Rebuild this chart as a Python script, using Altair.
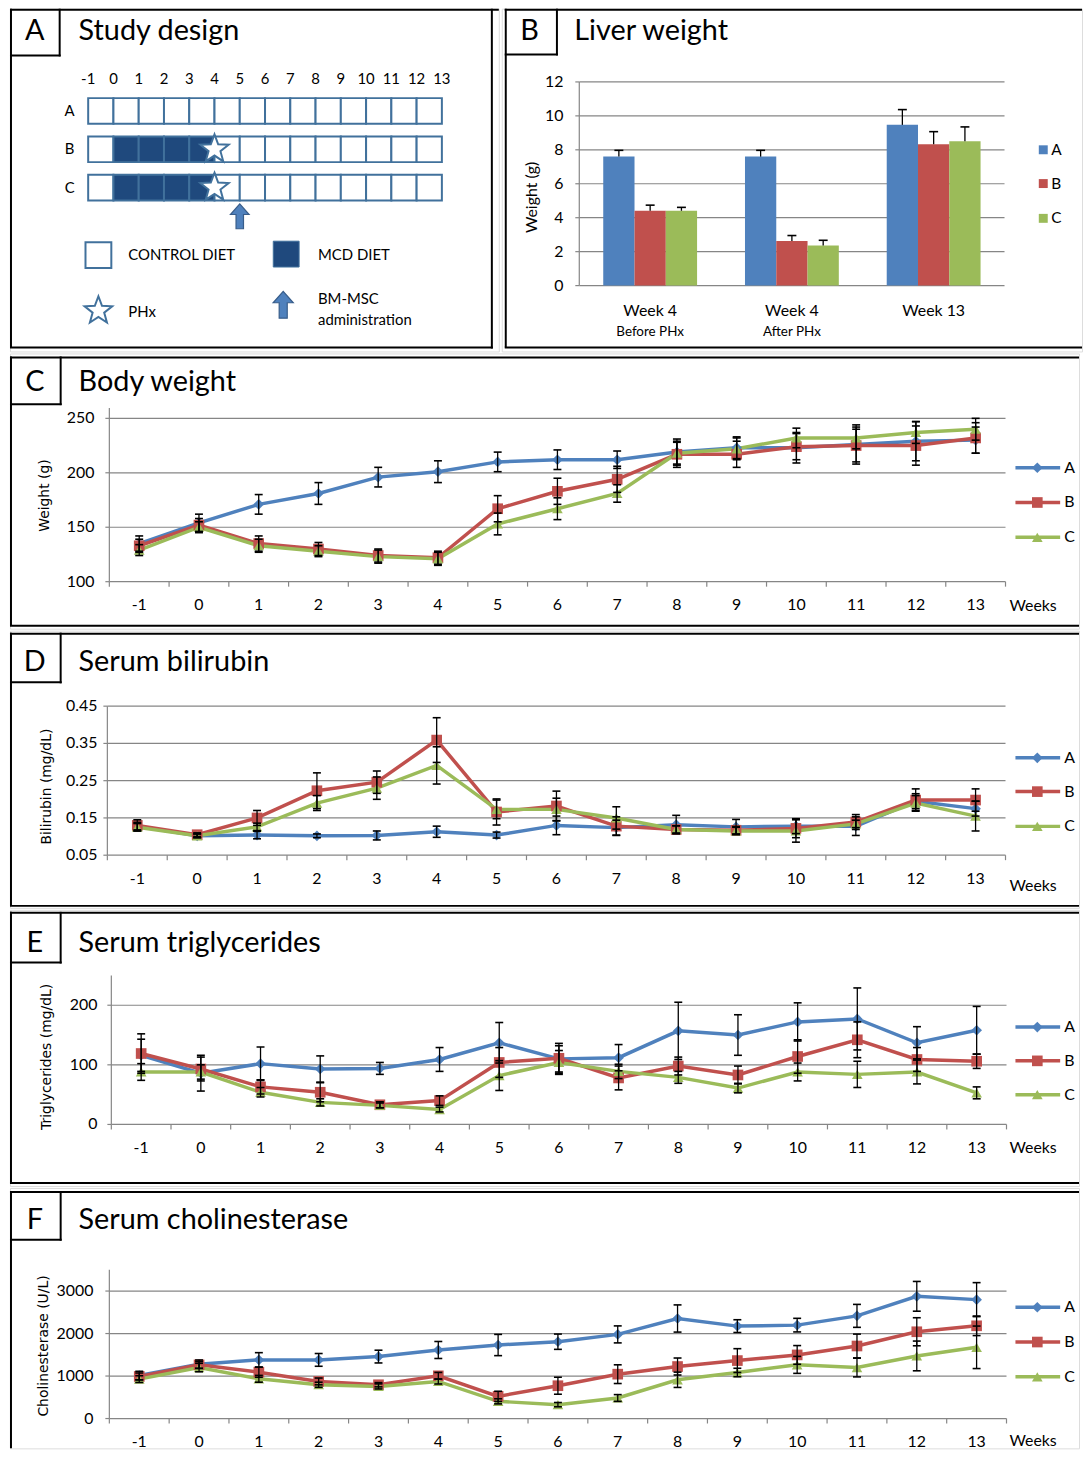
import altair as alt
import pandas as pd

FONT = "Lato"
YT_FONT = "DejaVu Sans"
GRID = "#868686"
BLUE_EDGE = "#41719C"
NAVY = "#1F497D"

series = ["A", "B", "C"]
series_colors = ["#4F81BD", "#C0504D", "#9BBB59"]
series_shapes = ["diamond", "square", "triangle-up"]
weeks = list(range(-1, 14))

# ---------------- Panel A: study design ----------------
design_rows = ["A", "B", "C"]
cell_start = list(range(-1, 13))
diet_A = ["control"] * 14
diet_B = ["control", "MCD", "MCD", "MCD", "MCD"] + ["control"] * 9
diet_C = ["control", "MCD", "MCD", "MCD", "MCD"] + ["control"] * 9
phx_rows = ["B", "C"]
phx_week = 4
msc_week = 5

# ---------------- Panel B: liver weight ----------------
liver_keys = ["w4pre", "w4post", "w13"]
liver_line1 = ["Week 4", "Week 4", "Week 13"]
liver_line2 = ["Before PHx", "After PHx", ""]
liver_A = [7.6, 7.6, 9.47]
liver_A_err = [0.37, 0.37, 0.9]
liver_B = [4.41, 2.63, 8.33]
liver_B_err = [0.33, 0.32, 0.74]
liver_C = [4.41, 2.36, 8.51]
liver_C_err = [0.2, 0.31, 0.84]
liver_ticks = [0, 2, 4, 6, 8, 10, 12]

# ---------------- Panel C: body weight ----------------
bw_A = [135, 154, 171, 181, 196, 201, 210, 212, 212, 219, 223, 223, 226, 229, 230]
bw_B = [133, 152, 135, 130, 124, 122, 167, 183, 194, 217, 217, 224, 225, 225, 232]
bw_C = [129, 150, 133, 128, 123, 121, 153, 167, 181, 218, 222, 232, 232, 237, 240]
bw_A_err = [7, 8, 9, 10, 9, 10, 9, 9, 8, 12, 10, 14, 18, 18, 12]
bw_B_err = [6, 6, 7, 6, 6, 6, 12, 12, 12, 12, 12, 12, 15, 18, 14]
bw_C_err = [5, 5, 6, 5, 6, 6, 10, 10, 8, 10, 10, 9, 10, 10, 10]
bw_ticks = [100, 150, 200, 250]
bw_labels = ["100", "150", "200", "250"]

# ---------------- Panel D: bilirubin ----------------
bil_A = [0.128, 0.102, 0.104, 0.102, 0.103, 0.113, 0.104, 0.130, 0.124, 0.132, 0.126, 0.128, 0.128, 0.195, 0.175]
bil_B = [0.130, 0.105, 0.150, 0.223, 0.246, 0.359, 0.166, 0.182, 0.128, 0.119, 0.117, 0.122, 0.139, 0.198, 0.198]
bil_C = [0.125, 0.102, 0.126, 0.190, 0.230, 0.291, 0.173, 0.173, 0.150, 0.119, 0.115, 0.115, 0.134, 0.190, 0.155]
bil_A_err = [0.01, 0.005, 0.01, 0.005, 0.012, 0.015, 0.008, 0.025, 0.02, 0.025, 0.02, 0.02, 0.025, 0.02, 0.02]
bil_B_err = [0.015, 0.005, 0.02, 0.048, 0.03, 0.06, 0.035, 0.04, 0.025, 0.01, 0.01, 0.025, 0.02, 0.03, 0.03]
bil_C_err = [0.01, 0.005, 0.01, 0.02, 0.03, 0.05, 0.025, 0.03, 0.03, 0.01, 0.01, 0.03, 0.01, 0.02, 0.04]
bil_ticks = [0.05, 0.15, 0.25, 0.35, 0.45]
bil_labels = ["0.05", "0.15", "0.25", "0.35", "0.45"]

# ---------------- Panel E: triglycerides ----------------
tg_A = [116, 86, 102, 93, 94, 109, 137, 110, 112, 157, 150, 172, 177, 137, 158]
tg_B = [119, 93, 63, 54, 33, 40, 104, 111, 78, 98, 83, 114, 142, 109, 106]
tg_C = [88, 88, 54, 37, 32, 25, 82, 104, 89, 79, 61, 88, 84, 88, 53]
tg_A_err = [27, 30, 28, 22, 10, 20, 34, 22, 22, 48, 34, 32, 52, 27, 40]
tg_B_err = [33, 20, 12, 16, 5, 8, 25, 25, 20, 15, 15, 28, 30, 20, 12]
tg_C_err = [14, 12, 8, 6, 4, 4, 25, 20, 12, 10, 8, 15, 22, 20, 10]
tg_ticks = [0, 100, 200]
tg_labels = ["0", "100", "200"]

# ---------------- Panel F: cholinesterase ----------------
ch_A = [1013, 1278, 1380, 1380, 1458, 1613, 1730, 1808, 1980, 2354, 2175, 2198, 2416, 2876, 2798]
ch_B = [990, 1263, 1091, 873, 795, 1005, 522, 772, 1044, 1224, 1364, 1497, 1707, 2042, 2182]
ch_C = [927, 1200, 935, 795, 756, 873, 405, 327, 483, 912, 1083, 1263, 1200, 1473, 1676]
ch_A_err = [100, 100, 170, 150, 150, 200, 250, 180, 200, 320, 150, 160, 270, 350, 400]
ch_B_err = [80, 80, 120, 80, 50, 80, 120, 200, 220, 200, 280, 220, 280, 330, 230]
ch_C_err = [80, 100, 80, 60, 60, 60, 60, 50, 80, 180, 100, 200, 220, 350, 500]
ch_ticks = [0, 1000, 2000, 3000]
ch_labels = ["0", "1000", "2000", "3000"]

STAR = ("M0,-1L0.247,-0.34L0.951,-0.309L0.399,0.13L0.588,0.809L0,0.42"
        "L-0.588,0.809L-0.399,0.13L-0.951,-0.309L-0.247,-0.34Z")
ARROW = "M-0.3,1L-0.3,-0.15L-0.75,-0.15L0,-1L0.75,-0.15L0.3,-0.15L0.3,1Z"

ONE = pd.DataFrame({"k": [0]})
TOTAL_W = 1076
LINE_W = 3.5
MARK_SIZE = 115


def hline(x1, x2, y, w=2, color="black"):
    return alt.Chart(ONE).mark_rule(color=color, strokeWidth=w).encode(
        x=alt.value(x1), x2=alt.value(x2), y=alt.value(y))


def vline(x, y1, y2, w=2, color="black"):
    return alt.Chart(ONE).mark_rule(color=color, strokeWidth=w).encode(
        x=alt.value(x), y=alt.value(y1), y2=alt.value(y2))


def label(txt, x, y, size, font=FONT, align="left", angle=0, color="black"):
    return alt.Chart(ONE).mark_text(text=txt, fontSize=size, font=font, align=align,
                                    baseline="middle", angle=angle, color=color).encode(
        x=alt.value(x), y=alt.value(y))


def frame(width, height, top, bottom, left, box_right, box_bottom, letter, letter_x, letter_y,
          title, title_x, right=None):
    layers = [hline(left - 1, width, top), vline(left, top - 1, bottom if bottom is not None else height)]
    if bottom is not None:
        layers.append(hline(left - 1, (right + 1) if right is not None else width, bottom))
    if right is not None:
        layers.append(vline(right, top - 1, bottom + 1))
    layers.append(vline(box_right, top - 1, box_bottom + 1))
    layers.append(hline(left - 1, box_right + 1, box_bottom))
    layers.append(label(letter, letter_x, letter_y, 29, align="center"))
    layers.append(label(title, title_x, letter_y, 29))
    return layers


def y_axis(yscale, ticks, labels, x0, ybot, ytop, gap, size=16):
    df = pd.DataFrame({"v": ticks, "lab": labels})
    Y = alt.Y("v:Q", scale=yscale, axis=None)
    return [
        vline(x0, ytop, ybot, w=1.2, color=GRID),
        alt.Chart(df).mark_rule(color=GRID, strokeWidth=1.2).encode(
            y=Y, x=alt.value(x0 - 4), x2=alt.value(x0)),
        alt.Chart(df).mark_text(align="right", baseline="middle", fontSize=size, font=FONT,
                                color="black").encode(y=Y, x=alt.value(x0 - gap), text="lab:N"),
    ]


def x_axis(xscale, x0, x1, ybot):
    wdf = pd.DataFrame({"week": weeks, "lab": [str(w) for w in weeks]})
    last = pd.DataFrame({"week": [weeks[-1]]})
    return [
        hline(x0, x1, ybot, w=1.2, color=GRID),
        alt.Chart(wdf).mark_rule(color=GRID, strokeWidth=1.2).encode(
            x=alt.X("week:O", scale=xscale, axis=None, bandPosition=0),
            y=alt.value(ybot), y2=alt.value(ybot + 5)),
        alt.Chart(last).mark_rule(color=GRID, strokeWidth=1.2).encode(
            x=alt.X("week:O", scale=xscale, axis=None, bandPosition=1),
            y=alt.value(ybot), y2=alt.value(ybot + 5)),
        alt.Chart(wdf).mark_text(align="center", baseline="middle", fontSize=16, font=FONT,
                                 color="black").encode(
            x=alt.X("week:O", scale=xscale, axis=None, bandPosition=0.5),
            y=alt.value(ybot + 24), text="lab:N"),
    ]


def line_panel(H, vals, errs, x0, x1, ydom, yrange, yticks, ylabels, gridvals, lab_gap,
               leg_ys, weeks_y, ytitle, ytitle_xy, frame_layers):
    rows = []
    for s, v, e in zip(series, vals, errs):
        for w, vv, ee in zip(weeks, v, e):
            rows.append(dict(week=w, series=s, value=vv, err=ee))
    df = pd.DataFrame(rows)
    xscale = alt.Scale(type="band", domain=weeks, range=[x0, x1], paddingInner=0, paddingOuter=0)
    yscale = alt.Scale(domain=ydom, range=yrange, nice=False, zero=False)
    ybot, ytop = yrange
    Xn = alt.X("week:O", scale=xscale, axis=None)
    color = alt.Color("series:N", scale=alt.Scale(domain=series, range=series_colors), legend=None)
    shape = alt.Shape("series:N", scale=alt.Scale(domain=series, range=series_shapes), legend=None)

    grid = alt.Chart(pd.DataFrame({"g": gridvals})).mark_rule(color=GRID, strokeWidth=1.2).encode(
        y=alt.Y("g:Q", scale=yscale, axis=None), x=alt.value(x0), x2=alt.value(x1))
    base = alt.Chart(df)
    lines = base.mark_line(strokeWidth=LINE_W).encode(
        x=Xn, y=alt.Y("value:Q", scale=yscale, axis=None), color=color)
    pts = base.mark_point(filled=True, size=MARK_SIZE, opacity=1).encode(
        x=Xn, y=alt.Y("value:Q", scale=yscale, axis=None), color=color, shape=shape)
    eb = base.transform_calculate(lo="datum.value - datum.err", hi="datum.value + datum.err")
    rules = eb.mark_rule(color="black", strokeWidth=1.3).encode(
        x=Xn, y=alt.Y("lo:Q", scale=yscale, axis=None), y2="hi:Q")
    cap_lo = eb.mark_tick(color="black", thickness=1.6, size=8, opacity=1).encode(
        x=Xn, y=alt.Y("lo:Q", scale=yscale, axis=None))
    cap_hi = eb.mark_tick(color="black", thickness=1.6, size=8, opacity=1).encode(
        x=Xn, y=alt.Y("hi:Q", scale=yscale, axis=None))

    legend = []
    for i, s in enumerate(series):
        ly = leg_ys[i]
        legend.append(hline(1012, 1057, ly, w=LINE_W, color=series_colors[i]))
        legend.append(alt.Chart(ONE).mark_point(filled=True, size=MARK_SIZE, shape=series_shapes[i],
                                                color=series_colors[i], opacity=1).encode(
            x=alt.value(1034), y=alt.value(ly)))
        legend.append(label(s, 1061, ly, 16))
    extras = [label("Weeks", 1006, weeks_y, 16),
              label(ytitle, ytitle_xy[0], ytitle_xy[1], 14, font=YT_FONT, align="center", angle=270)]
    axes = y_axis(yscale, yticks, ylabels, x0, ybot, ytop, lab_gap) + x_axis(xscale, x0, x1, ybot)
    return alt.layer(*frame_layers, grid, *axes, lines, pts, rules, cap_lo, cap_hi, *legend, *extras).properties(
        width=TOTAL_W, height=H)


# ---------------- build panel A ----------------
A_W, A_H = 492, 345
cells = []
for r, diets in zip(design_rows, [diet_A, diet_B, diet_C]):
    for st, d in zip(cell_start, diets):
        cells.append(dict(row=r, start=st, diet=d))
cells = pd.DataFrame(cells)
xa = alt.Scale(domain=[-1, 13], range=[78.7, 434.7], nice=False, zero=False)
ya = alt.Scale(type="band", domain=design_rows, range=[90, 193], paddingInner=0.33, paddingOuter=0)

rects = alt.Chart(cells).transform_calculate(end="datum.start + 1").mark_rect(
    stroke=BLUE_EDGE, strokeWidth=2).encode(
    x=alt.X("start:Q", scale=xa, axis=None), x2="end:Q",
    y=alt.Y("row:N", scale=ya, axis=None),
    fill=alt.Fill("diet:N", scale=alt.Scale(domain=["control", "MCD"], range=["white", NAVY]), legend=None))
col_labels = alt.Chart(pd.DataFrame({"week": weeks, "lab": [str(w) for w in weeks]})).mark_text(
    fontSize=15, font=FONT, baseline="middle").encode(
    x=alt.X("week:Q", scale=xa, axis=None), y=alt.value(71), text="lab:N")
row_labels = alt.Chart(pd.DataFrame({"row": design_rows})).mark_text(
    fontSize=15, font=FONT, baseline="middle").encode(
    x=alt.value(60), y=alt.Y("row:N", scale=ya, axis=None), text="row:N")
stars = alt.Chart(pd.DataFrame({"row": phx_rows, "week": [phx_week] * len(phx_rows)})).mark_point(
    shape=STAR, size=900, filled=True, fill="white", stroke=BLUE_EDGE, strokeWidth=2, opacity=1).encode(
    x=alt.X("week:Q", scale=xa, axis=None), y=alt.Y("row:N", scale=ya, axis=None))
arrow = alt.Chart(pd.DataFrame({"week": [msc_week]})).mark_point(
    shape=ARROW, size=625, filled=True, fill="#4F81BD", stroke="#385D8A", strokeWidth=1.2, opacity=1).encode(
    x=alt.X("week:Q", scale=xa, axis=None), y=alt.value(209))

legA = [
    alt.Chart(ONE).mark_rect(fill="white", stroke=BLUE_EDGE, strokeWidth=2).encode(
        x=alt.value(76), x2=alt.value(102), y=alt.value(235), y2=alt.value(261)),
    label("CONTROL DIET", 119, 248, 15),
    alt.Chart(ONE).mark_rect(fill=NAVY, stroke=BLUE_EDGE, strokeWidth=1).encode(
        x=alt.value(265), x2=alt.value(291), y=alt.value(234), y2=alt.value(260)),
    label("MCD DIET", 310, 248, 15),
    alt.Chart(ONE).mark_point(shape=STAR, size=850, filled=True, fill="white", stroke=BLUE_EDGE,
                              strokeWidth=2, opacity=1).encode(x=alt.value(89), y=alt.value(304)),
    label("PHx", 119, 305, 15),
    alt.Chart(ONE).mark_point(shape=ARROW, size=729, filled=True, fill="#4F81BD", stroke="#385D8A",
                              strokeWidth=1.2, opacity=1).encode(x=alt.value(275), y=alt.value(298)),
    label("BM-MSC", 310, 292, 15),
    label("administration", 310, 313, 15),
]
frameA = frame(A_W, A_H, 1, 341, 1, 50, 47, "A", 25, 23, "Study design", 69, right=485)
panelA = alt.layer(*frameA, rects, col_labels, row_labels, stars, arrow, *legA).properties(
    width=A_W, height=A_H)

# ---------------- build panel B ----------------
B_W, B_H = TOTAL_W - A_W, 345
lrows = []
for s, v, e in zip(series, [liver_A, liver_B, liver_C], [liver_A_err, liver_B_err, liver_C_err]):
    for k, vv, ee in zip(liver_keys, v, e):
        lrows.append(dict(cat=k, series=s, value=vv, err=ee))
ldf = pd.DataFrame(lrows)
bx_scale = alt.Scale(type="band", domain=liver_keys, range=[78, 506], paddingInner=0.338, paddingOuter=0.169)
bx = alt.X("cat:N", scale=bx_scale, axis=None)
bxo = alt.XOffset("series:N", scale=alt.Scale(domain=series, paddingInner=0, paddingOuter=0))
by_scale = alt.Scale(domain=[0, 12], range=[278.7, 73.7], nice=False, zero=False)
bcolor = alt.Color("series:N", scale=alt.Scale(domain=series, range=series_colors), legend=None)
bgrid = alt.Chart(pd.DataFrame({"g": liver_ticks})).mark_rule(color=GRID, strokeWidth=1.2).encode(
    y=alt.Y("g:Q", scale=by_scale, axis=None), x=alt.value(78), x2=alt.value(506))
bars = alt.Chart(ldf).mark_bar().encode(
    x=bx, xOffset=bxo, y=alt.Y("value:Q", scale=by_scale, axis=None), color=bcolor)
beb = alt.Chart(ldf).transform_calculate(hi="datum.value + datum.err")
brules = beb.mark_rule(color="black", strokeWidth=1.3).encode(
    x=bx, xOffset=bxo, y=alt.Y("value:Q", scale=by_scale, axis=None), y2="hi:Q")
bcaps = beb.mark_tick(color="black", thickness=1.6, size=9, opacity=1).encode(
    x=bx, xOffset=bxo, y=alt.Y("hi:Q", scale=by_scale, axis=None))
ldf_lab = pd.DataFrame({"cat": liver_keys, "l1": liver_line1, "l2": liver_line2})
blab1 = alt.Chart(ldf_lab).mark_text(fontSize=16, font=FONT, baseline="middle").encode(
    x=bx, y=alt.value(304), text="l1:N")
blab2 = alt.Chart(ldf_lab).mark_text(fontSize=13.5, font=FONT, baseline="middle").encode(
    x=bx, y=alt.value(325), text="l2:N")
legB = []
for i, s in enumerate(series):
    ly = [142, 176, 211][i]
    legB.append(alt.Chart(ONE).mark_square(size=81, color=series_colors[i], opacity=1).encode(
        x=alt.value(545), y=alt.value(ly)))
    legB.append(label(s, 553, ly, 15.5))
frameB = frame(B_W, B_H, 1, 341, 4, 55.5, 46, "B", 28, 22, "Liver weight", 73)
axB = y_axis(by_scale, liver_ticks, [str(t) for t in liver_ticks], 78, 278.7, 73.7, 16)
panelB = alt.layer(*frameB, bgrid, *axB, bars, brules, bcaps, blab1, blab2, *legB,
                   label("Weight (g)", 30, 190, 16, align="center", angle=270)).properties(
    width=B_W, height=B_H)

# ---------------- panels C-F ----------------
C_H = 277
panelC = line_panel(
    C_H, [bw_A, bw_B, bw_C], [bw_A_err, bw_B_err, bw_C_err], 100, 1002,
    [100, 259.4], [229.7, 55.0], bw_ticks, bw_labels, [150, 200, 250], 15,
    [115, 150, 185], 254, "Weight (g)", (35, 143),
    frame(TOTAL_W, C_H, 4, 274, 1, 51, 51, "C", 25, 29, "Body weight", 69))

D_H = 279
panelD = line_panel(
    D_H, [bil_A, bil_B, bil_C], [bil_A_err, bil_B_err, bil_C_err], 98, 1002,
    [0.05, 0.45], [226, 76], bil_ticks, bil_labels, [0.15, 0.25, 0.35, 0.45], 10,
    [128, 162, 197], 257, "Bilirubin (mg/dL)", (37, 157),
    frame(TOTAL_W, D_H, 3, 277, 1, 51, 52, "D", 25, 32, "Serum bilirubin", 69))

E_H = 278
panelE = line_panel(
    E_H, [tg_A, tg_B, tg_C], [tg_A_err, tg_B_err, tg_C_err], 102, 1003,
    [0, 250], [216, 66], tg_ticks, tg_labels, [100, 200], 14,
    [118, 152, 186], 240, "Triglycerides (mg/dL)", (37, 148),
    frame(TOTAL_W, E_H, 3, 275, 1, 51, 53, "E", 25, 33, "Serum triglycerides", 69))

F_H = 262
panelF = line_panel(
    F_H, [ch_A, ch_B, ch_C], [ch_A_err, ch_B_err, ch_C_err], 100, 1003,
    [0, 3500], [232, 82.3], ch_ticks, ch_labels, [1000, 2000, 3000], 16,
    [120, 155, 190], 255, "Cholinesterase (U/L)", (34, 159),
    frame(TOTAL_W, F_H, 4, None, 1, 51, 52, "F", 25, 32, "Serum cholinesterase", 69))

chart = alt.vconcat(
    alt.hconcat(panelA, panelB, spacing=0),
    panelC, panelD, panelE, panelF,
    spacing=0, padding={"top": -6, "left": 0, "right": 0, "bottom": 0},
).configure_view(stroke=None).configure(font=FONT)

chart.save("out.html", embed_options={"renderer": "svg", "actions": False})
